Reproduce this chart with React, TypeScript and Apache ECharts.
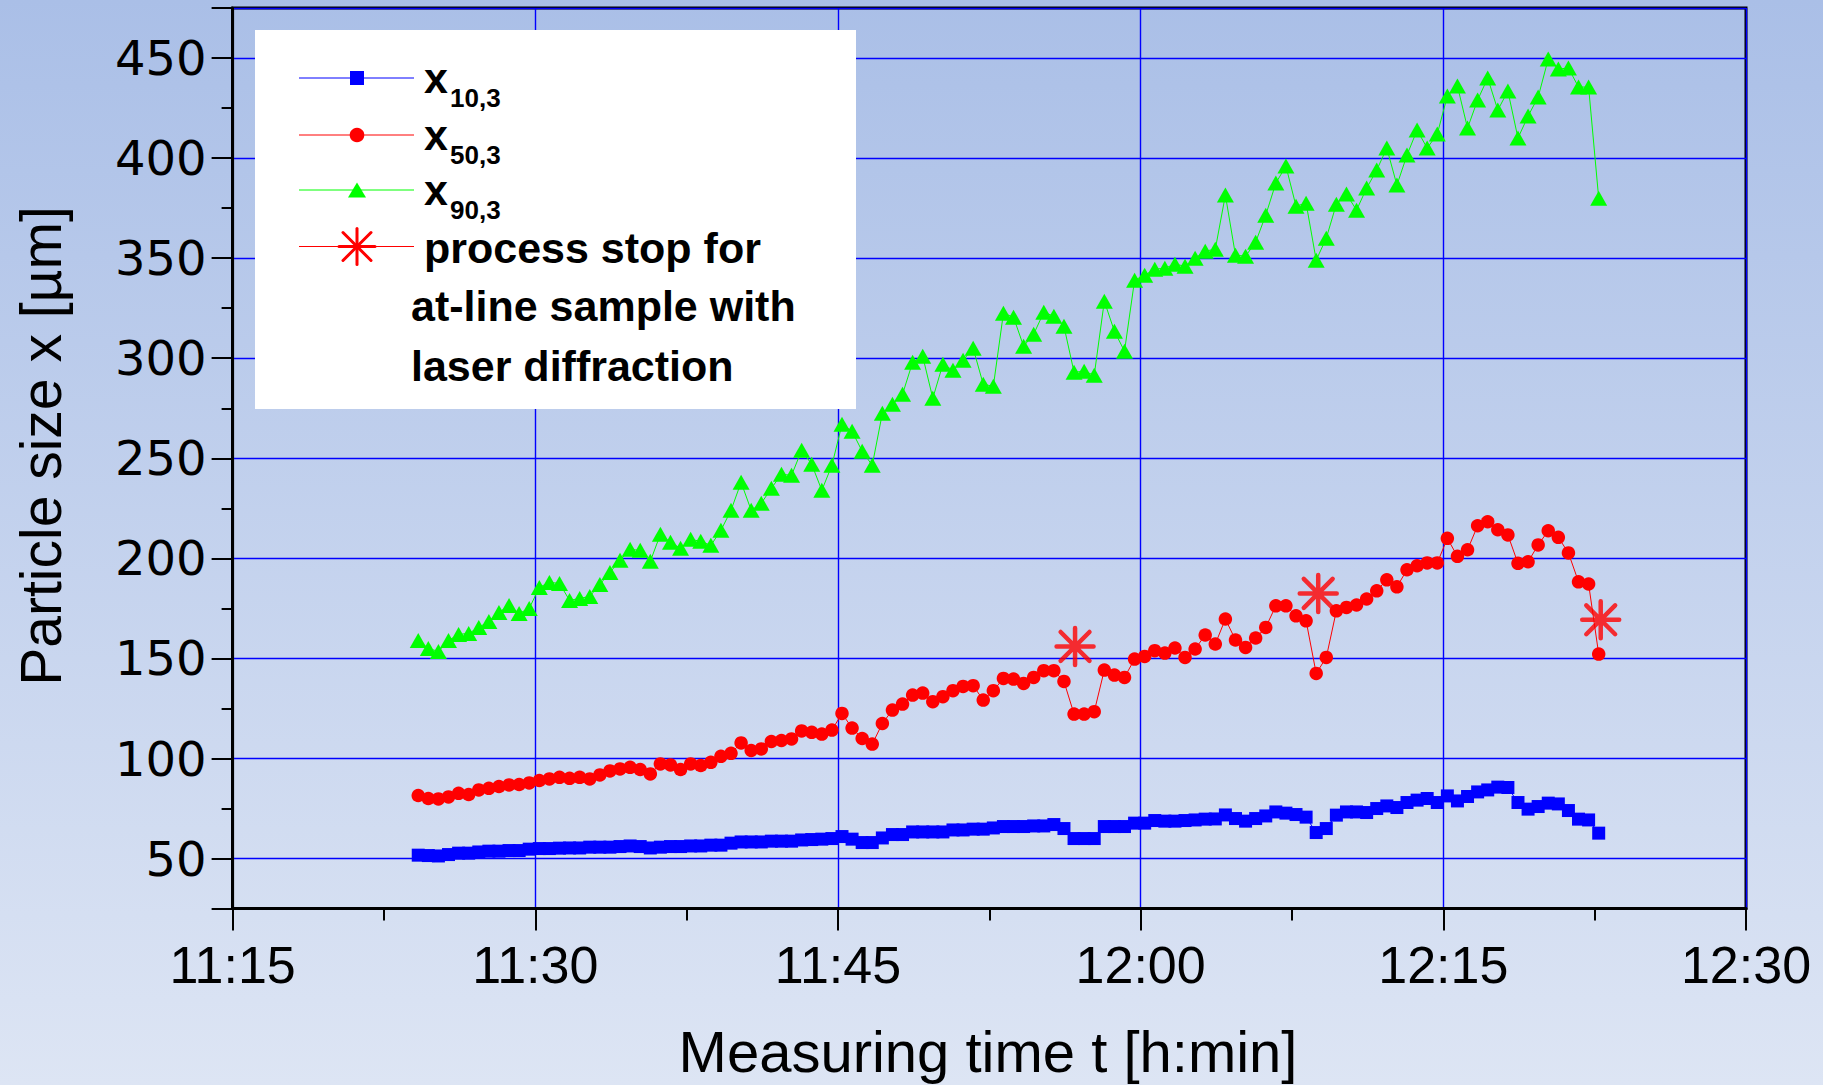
import React, { useEffect, useRef } from 'react';
import * as echarts from 'echarts';

// Sampling: one measurement every 30 s, starting 11:24:12
const START_TIME = '11:24:12';
const SAMPLE_STEP_S = 30;

const X_MIN = '11:15';
const X_MAX = '12:30';
const X_TICK_MIN = 15;
const Y_MIN = 25;
const Y_MAX = 475;
const Y_TICK = 50;

const x10_3 = [
  51.7, 51.5, 51.3, 52, 52.7, 52.7, 53.3, 53.7, 53.7, 54,
  54, 54.7, 55, 55, 55.2, 55.3, 55.3, 55.7, 55.7, 55.7,
  56, 56.3, 56, 55.3, 55.7, 56, 56, 56.3, 56.3, 56.7,
  56.7, 57.7, 58.3, 58.3, 58.3, 58.7, 58.7, 58.7, 59.3, 59.5,
  59.7, 60, 61, 59.7, 58, 58, 60.3, 62, 62, 63.3,
  63.3, 63.3, 63.3, 64.3, 64.3, 64.7, 64.7, 65.3, 66, 66,
  66, 66.3, 66.3, 67, 65, 60, 60, 60, 66, 66,
  66, 67.7, 67.7, 69, 68.7, 68.7, 69, 69.3, 69.7, 69.8,
  71.8, 70, 68.7, 70, 71.3, 73.3, 72.7, 72, 70.7, 63,
  65, 71.7, 73.3, 73.3, 73, 75, 76.3, 75.5, 78, 79.2,
  80, 78, 81.3, 78.8, 81, 83.3, 84.3, 85.7, 85.5, 78,
  74.7, 76, 77.7, 77.3, 74, 69.7, 69.3, 62.7,
];

const x50_3 = [
  81.5, 80, 79.8, 80.8, 82.6, 82, 84.3, 85.1, 86, 86.8,
  87, 87.8, 89, 89.8, 90.6, 90.1, 90.6, 89.8, 91.8, 93.8,
  94.8, 95.6, 94.5, 92.3, 97.3, 96.8, 94.5, 97.3, 96.5, 98.1,
  101.1, 102.6, 107.8, 104, 104.8, 108.5, 109, 109.8, 113.8, 113.1,
  112.2, 114.2, 122.5, 115.2, 110, 107.2, 117.5, 124.2, 127.2, 131.7,
  132.7, 128.4, 130.9, 133.9, 136, 136.4, 129.2, 133.9, 140, 139.7,
  137.5, 140.5, 143.9, 143.9, 138.5, 122.2, 122.2, 123.4, 144.2, 141.7,
  140.5, 149.7, 151, 153.9, 152.7, 155.2, 150.5, 154.7, 161.7, 157.2,
  169.7, 159.2, 155.5, 160.2, 165.5, 176.3, 176.3, 171.3, 168.8, 142.5,
  150.5, 173.8, 175.5, 176.7, 179.7, 183.8, 189.3, 185.8, 194.3, 196.3,
  197.7, 197.7, 210, 201, 204.3, 216.3, 218.3, 214.3, 211.7, 197.5,
  198.3, 206.7, 213.8, 210.5, 202.7, 188.3, 187.2, 152.2,
];

const x90_3 = [
  159, 155, 153.5, 159, 162, 162.5, 165.5, 168.5, 173, 176.5,
  172.5, 175, 185.5, 188, 187.5, 179, 180, 181, 187, 193,
  199, 204.5, 204, 198.5, 212, 208, 205, 209.5, 208.5, 206.5,
  214, 224, 238, 224, 227.5, 235, 242, 241.5, 254, 247,
  234, 246.5, 267, 263.5, 253.5, 246.5, 272.5, 277, 282, 298,
  301, 280, 297, 294, 299, 305, 287, 286, 322.5, 320.5,
  306, 312, 323, 321, 316, 293, 293.5, 291.5, 328.5, 313.5,
  303.5, 339, 341.5, 344.5, 345, 347, 346, 350, 353.5, 354.5,
  381.5, 351.5, 351, 358, 371.5, 387.5, 396, 376, 377.5, 349,
  360, 377, 382, 374, 385, 394, 405, 386.5, 401.5, 414,
  405, 412, 431, 436, 415, 429, 440, 424, 433.5, 410,
  421, 430.5, 449.5, 444.5, 445, 435.5, 435.5, 380,
];

const stopTimes = ['11:56:45', '12:08:48', '12:22:48'];
const stopValues = [156, 182.5, 169.3];

const seriesNames = ['x10,3', 'x50,3', 'x90,3', 'process stop'];

function toMin(s: string): number {
  const p = s.split(':').map(Number);
  return p[0] * 60 + p[1] + (p[2] || 0) / 60;
}
function fmtTime(v: number): string {
  const h = Math.floor(v / 60 + 1e-9);
  const m = Math.round(v - h * 60);
  return `${h}:${String(m).padStart(2, '0')}`;
}

const BLUE = '#0000ff';
const RED = '#ff0000';
const GREEN = '#00ff00';
const FONT = 'Liberation Sans, Arial, sans-serif';

export default function App() {
  const ref = useRef<HTMLDivElement>(null);
  useEffect(() => {
    document.body.style.margin = '0';
    document.body.style.overflow = 'hidden';
    const chart = echarts.init(ref.current!, undefined, { renderer: 'svg' });
    const t0 = toMin(START_TIME);
    const times = x10_3.map((_, i) => t0 + (i * SAMPLE_STEP_S) / 60);
    const pair = (arr: number[]) => arr.map((v, i) => [times[i], v]);
    const stops = stopTimes.map((t, i) => [toMin(t), stopValues[i]]);
    const star =
      'path://M0,-10L0,10M-10,0L10,0M-7.8,-7.8L7.8,7.8M-7.8,7.8L7.8,-7.8';

    const LX = 357; // legend marker centre x
    const rows = [78, 135, 190, 246.5];
    const legendLine = (y: number, color: string) => [
      { type: 'line', z: 101, shape: { x1: 299, y1: y, x2: 414, y2: y }, style: { stroke: color, lineWidth: 1 } },
    ];
    const starLines = (cx: number, cy: number, r: number, d: number) => [
      [cx - r, cy, cx + r, cy],
      [cx, cy - r, cx, cy + r],
      [cx - d, cy - d, cx + d, cy + d],
      [cx - d, cy + d, cx + d, cy - d],
    ].map((s) => ({
      type: 'line', z: 102,
      shape: { x1: s[0], y1: s[1], x2: s[2], y2: s[3] },
      style: { stroke: RED, lineWidth: 3, lineCap: 'round' },
    }));
    const subLabel = (y: number, sub: string) => [
      { type: 'text', z: 102, x: 424, y: y, style: { text: 'x', fontSize: 43, lineHeight: 24, fontWeight: 'bold', fontFamily: FONT, fill: '#000', align: 'left', verticalAlign: 'middle' } },
      { type: 'text', z: 102, x: 450, y: y + 20, style: { text: sub, fontSize: 26, lineHeight: 16, fontWeight: 'bold', fontFamily: FONT, fill: '#000', align: 'left', verticalAlign: 'middle' } },
    ];

    const graphic: any[] = [
      { type: 'rect', z: 100, shape: { x: 255, y: 30, width: 601, height: 379 }, style: { fill: '#ffffff' } },
      ...legendLine(rows[0], BLUE),
      { type: 'rect', z: 102, shape: { x: LX - 7, y: rows[0] - 7, width: 14, height: 14 }, style: { fill: BLUE } },
      ...subLabel(rows[0], '10,3'),
      ...legendLine(rows[1], RED),
      { type: 'circle', z: 102, shape: { cx: LX, cy: rows[1], r: 7.3 }, style: { fill: RED } },
      ...subLabel(rows[1], '50,3'),
      ...legendLine(rows[2], GREEN),
      { type: 'polygon', z: 102, shape: { points: [[LX - 9, rows[2] + 7.5], [LX + 9, rows[2] + 7.5], [LX, rows[2] - 7.5]] }, style: { fill: GREEN } },
      ...subLabel(rows[2], '90,3'),
      { type: 'line', z: 101, shape: { x1: 299, y1: rows[3], x2: 339, y2: rows[3] }, style: { stroke: RED, lineWidth: 1 } },
      { type: 'line', z: 101, shape: { x1: 375, y1: rows[3], x2: 414, y2: rows[3] }, style: { stroke: RED, lineWidth: 1 } },
      ...starLines(LX, rows[3], 18, 14),
      { type: 'text', z: 102, x: 424, y: 248, style: { text: 'process stop for', fontSize: 43, lineHeight: 36, fontWeight: 'bold', fontFamily: FONT, fill: '#000', align: 'left', verticalAlign: 'middle' } },
      { type: 'text', z: 102, x: 411, y: 306, style: { text: 'at-line sample with', fontSize: 43, lineHeight: 36, fontWeight: 'bold', fontFamily: FONT, fill: '#000', align: 'left', verticalAlign: 'middle' } },
      { type: 'text', z: 102, x: 411, y: 366, style: { text: 'laser diffraction', fontSize: 43, lineHeight: 36, fontWeight: 'bold', fontFamily: FONT, fill: '#000', align: 'left', verticalAlign: 'middle' } },
      { type: 'text', z: 102, x: 41, y: 446, rotation: Math.PI / 2, style: { text: 'Particle size x [µm]', fontSize: 57, fontFamily: FONT, fill: '#000', align: 'center', verticalAlign: 'middle' } },
      { type: 'text', z: 102, x: 988, y: 1051, style: { text: 'Measuring time t [h:min]', fontSize: 58, lineHeight: 58, fontFamily: FONT, fill: '#000', align: 'center', verticalAlign: 'middle' } },
    ];

    chart.setOption({
      animation: false,
      backgroundColor: new echarts.graphic.LinearGradient(0, 0, 0, 1, [
        { offset: 0, color: '#aabfe7' },
        { offset: 1, color: '#dde5f4' },
      ]),
      grid: {
        left: 232.6, right: 77, top: 8, bottom: 176.4,
        show: true, borderColor: '#000', borderWidth: 3, backgroundColor: 'transparent',
        containLabel: false,
      },
      xAxis: {
        type: 'value',
        min: toMin(X_MIN), max: toMin(X_MAX), interval: X_TICK_MIN,
        axisLine: { show: true, lineStyle: { color: '#000', width: 3 } },
        axisTick: { show: true, inside: false, length: 22, lineStyle: { color: '#000', width: 2 } },
        minorTick: { show: true, splitNumber: 2, length: 12, lineStyle: { color: '#000', width: 2 } },
        splitLine: { show: true, lineStyle: { color: BLUE, width: 1.4 } },
        axisLabel: { formatter: (v: number) => fmtTime(v), fontSize: 52, fontFamily: FONT, color: '#000', margin: 30 },
      },
      yAxis: {
        type: 'value',
        min: Y_MIN, max: Y_MAX, splitNumber: 9, minInterval: Y_TICK, maxInterval: Y_TICK,
        axisLine: { show: true, lineStyle: { color: '#000', width: 3 } },
        axisTick: { show: true, inside: false, length: 21, lineStyle: { color: '#000', width: 2 } },
        minorTick: { show: true, splitNumber: 2, length: 11, lineStyle: { color: '#000', width: 2 } },
        splitLine: { show: true, lineStyle: { color: BLUE, width: 1.4 } },
        axisLabel: {
          formatter: (v: number) => (v % Y_TICK === 0 ? String(v) : ''),
          fontSize: 48, fontFamily: 'DejaVu Sans, sans-serif', color: '#000', margin: 26,
        },
      },
      graphic,
      series: [
        {
          name: seriesNames[0], type: 'line', data: pair(x10_3), symbol: 'rect', symbolSize: 13,
          itemStyle: { color: BLUE }, lineStyle: { color: BLUE, width: 1 }, z: 3,
        },
        {
          name: seriesNames[1], type: 'line', data: pair(x50_3), symbol: 'circle', symbolSize: 13.5,
          itemStyle: { color: RED }, lineStyle: { color: RED, width: 1 }, z: 3,
        },
        {
          name: seriesNames[2], type: 'line', data: pair(x90_3), symbol: 'triangle', symbolSize: [17, 15],
          itemStyle: { color: GREEN }, lineStyle: { color: GREEN, width: 1 }, z: 3,
        },
        {
          name: seriesNames[3], type: 'scatter', data: stops, symbol: star, symbolSize: 37,
          itemStyle: { color: RED, borderColor: RED, borderWidth: 4.5, borderCap: 'round' }, z: 4,
        },
      ],
    });
    return () => chart.dispose();
  }, []);
  return <div ref={ref} style={{ position: 'absolute', left: 0, top: 0, width: 1823, height: 1085 }} />;
}
